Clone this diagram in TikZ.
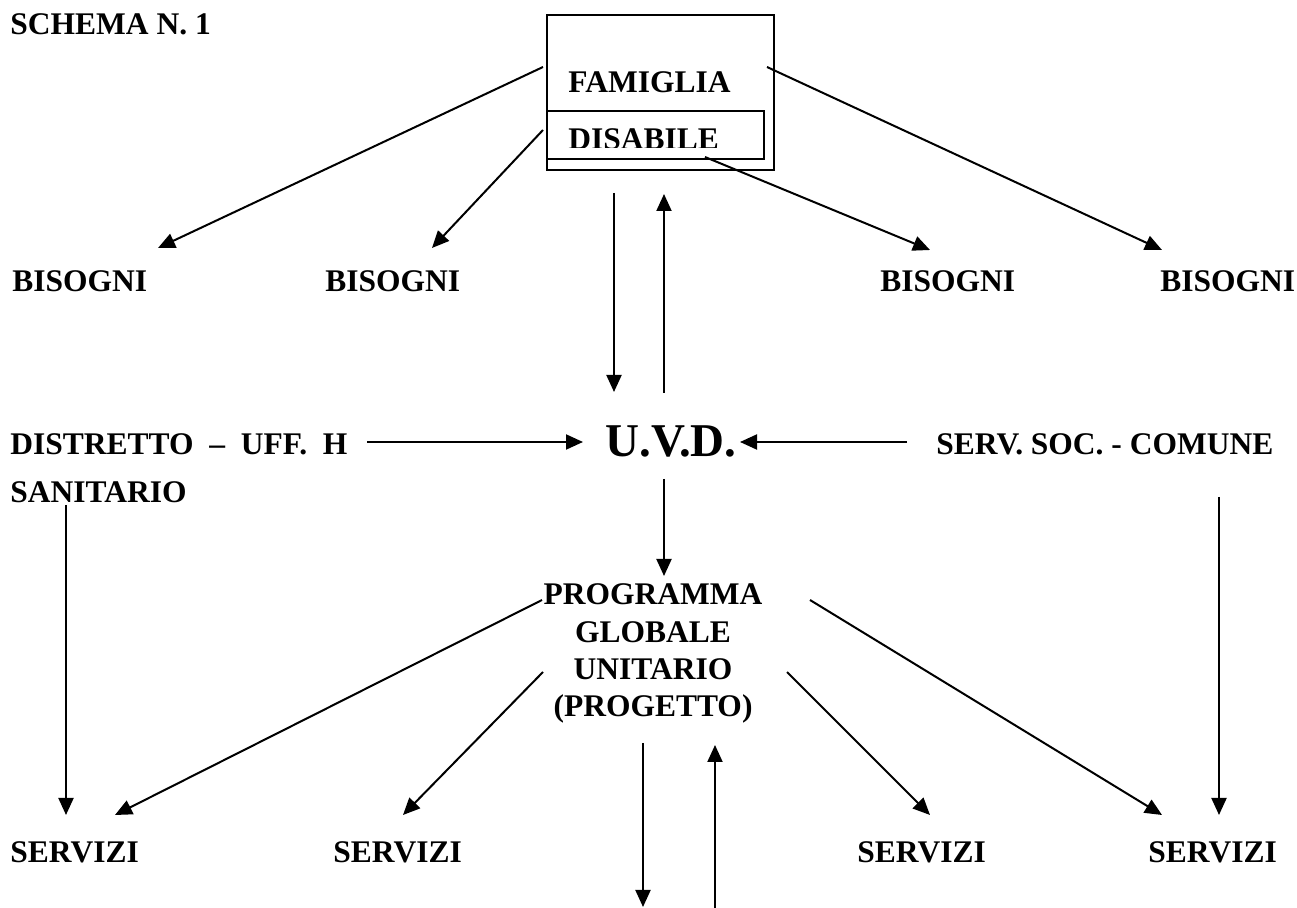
\documentclass[tikz,border=0pt]{standalone}
\usepackage{fontspec}
\setmainfont{Liberation Serif}
\usetikzlibrary{arrows.meta}
\begin{document}
\begin{tikzpicture}[x=0.5pt,y=-0.5pt,
  lbl/.style={font=\bfseries\fontsize{15.75}{18.9}\selectfont, inner sep=0pt, anchor=base west},
  clbl/.style={font=\bfseries\fontsize{15.75}{18.9}\selectfont, inner sep=0pt, anchor=base},
  big/.style={font=\bfseries\fontsize{23.5}{28}\selectfont, inner sep=0pt, anchor=base west},
  arr/.style={line width=1pt, -{Triangle[length=8.5pt,width=7.5pt]}},
  boxst/.style={draw, line width=1pt, inner sep=0pt, anchor=north west}]
\useasboundingbox (0,0) rectangle (1297,908);

% texts
\node[lbl] (schema) at (10,35) {SCHEMA N. 1};
\node[boxst, minimum width=113.5pt, minimum height=77.5pt] (fambox) at (546,14) {};
\node[boxst, minimum width=108.5pt, minimum height=24pt] (disbox) at (546,110) {};
\node[lbl] (famiglia) at (568,93) {FAMIGLIA};
\begin{scope}
  \clip (546,110) rectangle (763,148);
  \node[lbl] (disabile) at (568,150) {DISABILE};
\end{scope}

\node[lbl] (bis1) at (12,292) {BISOGNI};
\node[lbl] (bis2) at (325,292) {BISOGNI};
\node[lbl] (bis3) at (880,292) {BISOGNI};
\node[lbl] (bis4) at (1160,292) {BISOGNI};

\node[lbl] (distr) at (10,455) {DISTRETTO~ –~ UFF.~ H};
\node[lbl] (sanit) at (10,503) {SANITARIO};
\node[big] (uvd) at (605,457) {U.V.D.};
\node[lbl] (serv) at (936,455) {SERV. SOC. - COMUNE};

\node[clbl] (prog1) at (653,605) {PROGRAMMA};
\node[clbl] (prog2) at (653,643) {GLOBALE};
\node[clbl] (prog3) at (653,680) {UNITARIO};
\node[clbl] (prog4) at (653,717) {(PROGETTO)};

\node[lbl] (ser1) at (10,863) {SERVIZI};
\node[lbl] (ser2) at (333,863) {SERVIZI};
\node[lbl] (ser3) at (857,863) {SERVIZI};
\node[lbl] (ser4) at (1148,863) {SERVIZI};

% connector end points
\coordinate (a1s) at (543,67);   \coordinate (a1e) at (158,248);
\coordinate (a2s) at (543,130);  \coordinate (a2e) at (432,248);
\coordinate (a3s) at (705,157);  \coordinate (a3e) at (930,250);
\coordinate (a4s) at (767,67);   \coordinate (a4e) at (1162,250);
\coordinate (d1s) at (614,193);  \coordinate (d1e) at (614,392);
\coordinate (u1s) at (664,393);  \coordinate (u1e) at (664,194);
\coordinate (h1s) at (367,442);  \coordinate (h1e) at (583,442);
\coordinate (h2s) at (907,442);  \coordinate (h2e) at (740,442);
\coordinate (d2s) at (664,479);  \coordinate (d2e) at (664,576);
\coordinate (v1s) at (66,505);   \coordinate (v1e) at (66,815);
\coordinate (v2s) at (1219,497); \coordinate (v2e) at (1219,815);
\coordinate (p1s) at (542,600);  \coordinate (p1e) at (115,815);
\coordinate (p2s) at (543,672);  \coordinate (p2e) at (403,815);
\coordinate (p3s) at (787,672);  \coordinate (p3e) at (930,815);
\coordinate (p4s) at (810,600);  \coordinate (p4e) at (1162,815);
\coordinate (b1s) at (643,743);  \coordinate (b1e) at (643,907);
\coordinate (b2s) at (715,908);  \coordinate (b2e) at (715,745);

\foreach \n in {a1,a2,a3,a4,d1,u1,h1,h2,d2,v1,v2,p1,p2,p3,p4,b1,b2}
  \draw[arr] (\n s) -- (\n e);
\end{tikzpicture}
\end{document}
